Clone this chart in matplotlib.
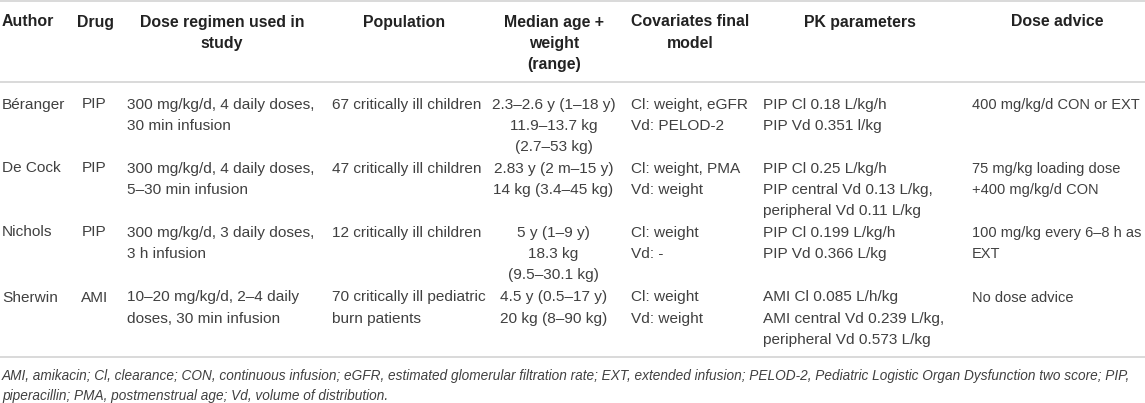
import matplotlib
matplotlib.use("Agg")
import matplotlib.pyplot as plt

plt.rcParams["font.family"] = ["Liberation Sans", "DejaVu Sans"]

# table content
headers = ["Author", "Drug", "Dose regimen used in\nstudy", "Population",
           "Median age +\nweight\n(range)", "Covariates final\nmodel",
           "PK parameters", "Dose advice"]
authors = ["Béranger", "De Cock", "Nichols", "Sherwin"]
drugs = ["PIP", "PIP", "PIP", "AMI"]
dose_regimen = ["300 mg/kg/d, 4 daily doses,\n30 min infusion",
                "300 mg/kg/d, 4 daily doses,\n5–30 min infusion",
                "300 mg/kg/d, 3 daily doses,\n3 h infusion",
                "10–20 mg/kg/d, 2–4 daily\ndoses, 30 min infusion"]
population = ["67 critically ill children",
              "47 critically ill children",
              "12 critically ill children",
              "70 critically ill pediatric\nburn patients"]
age_weight = ["2.3–2.6 y (1–18 y)\n11.9–13.7 kg\n(2.7–53 kg)",
              "2.83 y (2 m–15 y)\n14 kg (3.4–45 kg)",
              "5 y (1–9 y)\n18.3 kg\n(9.5–30.1 kg)",
              "4.5 y (0.5–17 y)\n20 kg (8–90 kg)"]
covariates = ["Cl: weight, eGFR\nVd: PELOD-2",
              "Cl: weight, PMA\nVd: weight",
              "Cl: weight\nVd: -",
              "Cl: weight\nVd: weight"]
pk_params = ["PIP Cl 0.18 L/kg/h\nPIP Vd 0.351 l/kg",
             "PIP Cl 0.25 L/kg/h\nPIP central Vd 0.13 L/kg,\nperipheral Vd 0.11 L/kg",
             "PIP Cl 0.199 L/kg/h\nPIP Vd 0.366 L/kg",
             "AMI Cl 0.085 L/h/kg\nAMI central Vd 0.239 L/kg,\nperipheral Vd 0.573 L/kg"]
dose_advice = ["400 mg/kg/d CON or EXT",
               "75 mg/kg loading dose\n+400 mg/kg/d CON",
               "100 mg/kg every 6–8 h as\nEXT",
               "No dose advice"]
footnote = ["AMI, amikacin; Cl, clearance; CON, continuous infusion; eGFR, estimated glomerular "
            "filtration rate; EXT, extended infusion; PELOD-2, Pediatric Logistic Organ Dysfunction two score; PIP,",
            "piperacillin; PMA, postmenstrual age; Vd, volume of distribution."]

columns = [authors, drugs, dose_regimen, population, age_weight,
           covariates, pk_params, dose_advice]

# layout in pixels
W, H = 1145, 403
head_x = [2, 95, 222, 404, 554, 690, 860, 1057]
head_ha = ["left", "center", "center", "center", "center", "center", "center", "center"]
body_x = [2, 94.5, 127, 332, 553.5, 631, 763, 972]
body_ha = ["left", "center", "left", "left", "center", "left", "left", "left"]
line_h = 21.2
head_y0 = 21
row_y0 = [103, 167, 231, 296]
rules_y = [1, 82, 357]
foot_y = [375, 395]

TXT = "#404040"
FS = 11.1
FS_HEAD = 11.4
FS_FOOT = 9.8
# last column is set a touch tighter so it stays inside the figure
col_fs = [FS] * 7 + [10.55]

fig = plt.figure(figsize=(W / 100, H / 100), dpi=100)
ax = fig.add_axes([0, 0, 1, 1])
ax.set_xlim(0, W)
ax.set_ylim(H, 0)
ax.axis("off")

for y in rules_y:
    ax.axhline(y, color="#d0d0d0", lw=1.1)

for x, ha, h in zip(head_x, head_ha, headers):
    for i, line in enumerate(h.split("\n")):
        ax.text(x, head_y0 + i * line_h + 5.5, line, ha=ha, va="baseline",
                fontsize=FS_HEAD, fontweight="bold", color="#222222")

for col, x, ha, fs in zip(columns, body_x, body_ha, col_fs):
    for r, cell in enumerate(col):
        for i, line in enumerate(cell.split("\n")):
            ax.text(x, row_y0[r] + i * line_h + 5.5, line, ha=ha, va="baseline",
                    fontsize=fs, color=TXT)

for y, line in zip(foot_y, footnote):
    ax.text(2, y + 5, line, ha="left", va="baseline", fontsize=FS_FOOT,
            style="italic", color=TXT)

fig.savefig("out.png", dpi=100)
